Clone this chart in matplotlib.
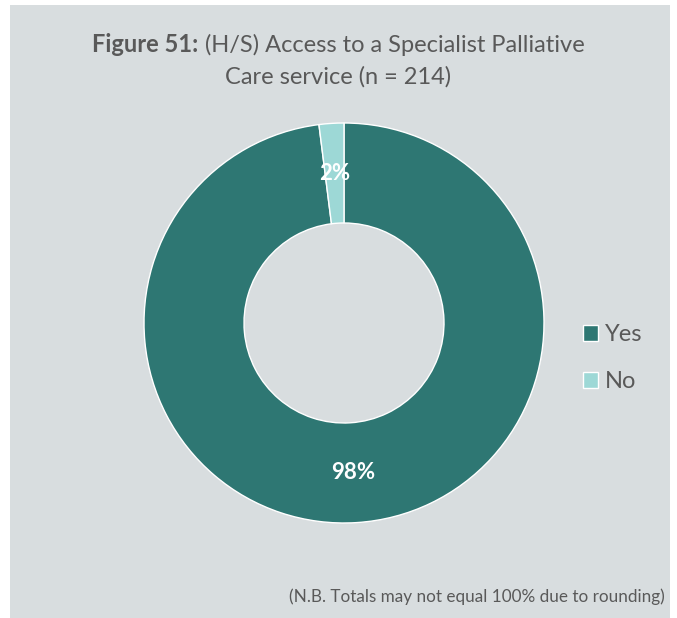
import matplotlib.pyplot as plt
from matplotlib.patches import Rectangle
from matplotlib.offsetbox import TextArea, HPacker, AnnotationBbox

categories = ["Yes", "No"]
values = [98, 2]
colors = ["#2E7773", "#9DD8D6"]

bg = "#D8DDDF"
text_col = "#595959"
font = "Lato"

fig = plt.figure(figsize=(6.77, 6.18), dpi=100)
fig.patch.set_facecolor("white")
fig.patches.append(Rectangle((10 / 677, 0), 660 / 677, 613 / 618,
                             transform=fig.transFigure, facecolor=bg,
                             edgecolor="none", zorder=-1))

# Title: bold figure number followed by the regular caption
title_y1 = 1 - 45 / 618
title_y2 = 1 - 77 / 618
title_size = 17
bold = TextArea("Figure 51:", textprops=dict(fontsize=title_size, fontweight="bold",
                                             color=text_col, family=font))
rest = TextArea(" (H/S) Access to a Specialist Palliative",
                textprops=dict(fontsize=title_size, color=text_col, family=font))
line1 = HPacker(children=[bold, rest], pad=0, sep=0, align="baseline")
ab = AnnotationBbox(line1, (0.5, title_y1), xycoords="figure fraction",
                    frameon=False, box_alignment=(0.5, 0.5))
fig.add_artist(ab)
fig.text(0.5, title_y2, "Care service (n = 214)", ha="center", va="center",
         fontsize=title_size, color=text_col, family=font)

# Donut
cx, cy, r = 344 / 677, 1 - 323 / 618, 200
ax = fig.add_axes([cx - r / 677, cy - r / 618, 2 * r / 677, 2 * r / 618])
ax.set_facecolor("none")
wedges, _, autotexts = ax.pie(
    values, colors=colors, startangle=90, counterclock=False,
    autopct=lambda p: f"{p:.0f}%", pctdistance=0.75,
    wedgeprops=dict(width=0.5, edgecolor="white", linewidth=1),
    textprops=dict(color="white", fontsize=16, fontweight="bold", family=font),
)
ax.set_xlim(-1, 1)
ax.set_ylim(-1, 1)
ax.set_aspect("equal")
ax.axis("off")

# Legend
leg = fig.legend(wedges, categories, loc="center left",
                 bbox_to_anchor=(566 / 677, 1 - 358 / 618), frameon=False,
                 handlelength=0.65, handleheight=0.65, handletextpad=0.3,
                 labelspacing=1.1, borderpad=0.2, prop=dict(family=font, size=17))
for txt in leg.get_texts():
    txt.set_color(text_col)

# Footnote
fig.text(665 / 677, 1 - 597 / 618,
         "(N.B. Totals may not equal 100% due to rounding)",
         ha="right", va="center", fontsize=12.3, color=text_col, family=font)

fig.savefig("out.png", dpi=100, facecolor=fig.get_facecolor())
